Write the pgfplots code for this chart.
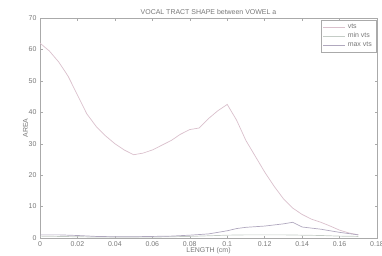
\documentclass[border=0pt]{standalone}
\usepackage{pgfplots}
\pgfplotsset{compat=1.18}
\usepackage{fontspec}
\setmainfont{Liberation Sans}
\definecolor{vtscol}{RGB}{218,192,204}
\definecolor{mincol}{RGB}{196,204,198}
\definecolor{maxcol}{RGB}{176,168,190}
\definecolor{axcol}{RGB}{170,170,170}
\definecolor{txtcol}{RGB}{120,120,120}
\begin{document}
\begin{tikzpicture}
\useasboundingbox (-40bp,-18bp) rectangle (342bp,238bp);
\begin{axis}[
  at={(0,0)}, anchor=south west,
  scale only axis, width=337bp, height=220bp,
  xmin=0, xmax=0.18, ymin=0, ymax=70,
  xtick={0,0.02,...,0.18}, ytick={0,10,...,70},
  xticklabels={0,0.02,0.04,0.06,0.08,0.1,0.12,0.14,0.16,0.18},
  tick align=inside, tick pos=both, major tick length=2.5bp,
  axis line style={axcol, line width=0.9pt},
  every tick/.style={axcol},
  tick label style={font=\fontsize{7}{8}\selectfont, text=txtcol},
  /pgf/number format/assume math mode=true,
  scaled x ticks=false,
  title={VOCAL TRACT SHAPE between VOWEL a},
  title style={font=\fontsize{7}{8}\selectfont, text=txtcol, yshift=-6bp},
  xlabel={LENGTH (cm)}, ylabel={AREA},
  label style={font=\fontsize{7}{8}\selectfont, text=txtcol},
  xlabel style={yshift=6bp}, ylabel style={yshift=-6bp},
  legend style={at={(0.997,0.99)}, anchor=north east, font=\fontsize{7}{8}\selectfont,
    draw=axcol, text=txtcol, inner sep=2pt, row sep=-1.5pt},
  legend cell align=left,
  legend image post style={xscale=1.3},
]
\addplot[vtscol, line width=0.7pt] coordinates {
(0,62) (0.005,59.5) (0.01,56) (0.015,51.5) (0.02,45.5) (0.025,39.5) (0.03,35.5)
(0.035,32.5) (0.04,30) (0.045,28) (0.05,26.5) (0.055,27) (0.06,28) (0.065,29.5)
(0.07,31) (0.075,33) (0.08,34.5) (0.085,35) (0.09,38) (0.095,40.5) (0.1,42.5)
(0.105,37.5) (0.11,31) (0.115,26) (0.12,21) (0.125,16.5) (0.13,12.5) (0.135,9.5)
(0.14,7.5) (0.145,6) (0.15,5) (0.155,3.8) (0.16,2.5) (0.165,1.6) (0.17,1)
};
\addlegendentry{vts}
\addplot[mincol, line width=0.7pt] coordinates {
(0,0.6) (0.01,0.5) (0.02,0.4) (0.03,0.3) (0.04,0.3) (0.05,0.3) (0.06,0.3) (0.07,0.4)
(0.08,0.5) (0.09,0.7) (0.1,0.9) (0.11,1) (0.12,1) (0.13,1) (0.14,0.9) (0.15,0.8)
(0.16,0.6) (0.17,0.5)
};
\addlegendentry{min vts}
\addplot[maxcol, line width=0.7pt] coordinates {
(0,1) (0.01,1) (0.02,0.8) (0.03,0.5) (0.04,0.4) (0.05,0.4) (0.06,0.5) (0.07,0.6)
(0.08,0.9) (0.09,1.3) (0.1,2.3) (0.105,3) (0.11,3.4) (0.12,3.8) (0.13,4.5) (0.135,5)
(0.14,3.5) (0.15,2.8) (0.16,1.8) (0.17,1)
};
\addlegendentry{max vts}
\end{axis}
\end{tikzpicture}
\end{document}
